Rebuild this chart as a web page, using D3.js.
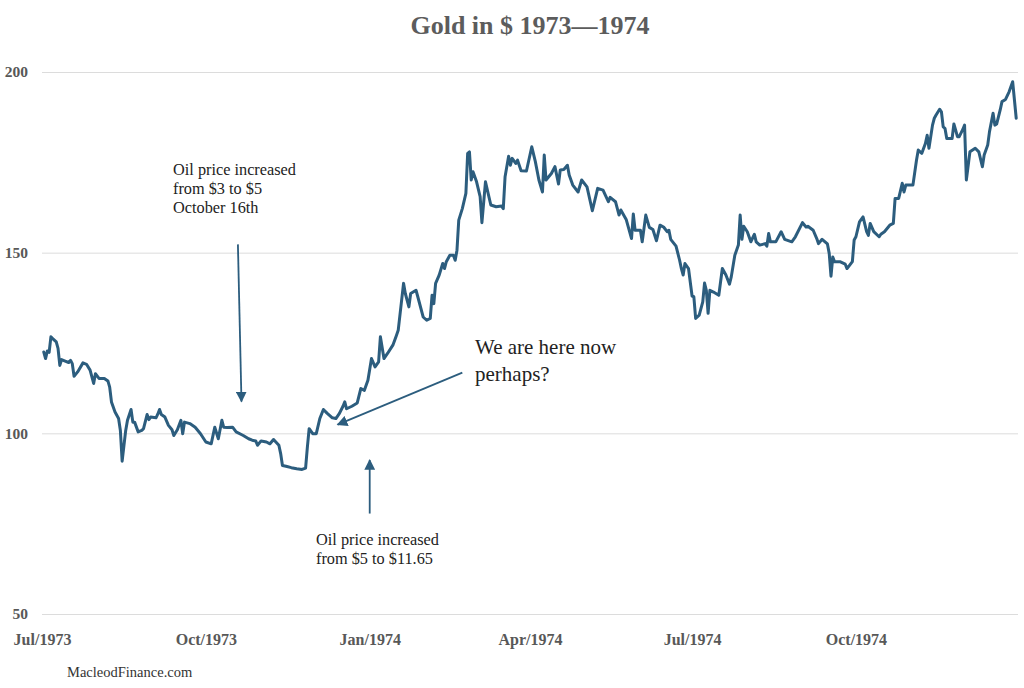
<!DOCTYPE html>
<html>
<head>
<meta charset="utf-8">
<script src="https://cdn.jsdelivr.net/npm/d3@7"></script>
<style>
  html, body { margin: 0; padding: 0; background: #fff; }
  svg { display: block; }
  text { font-family: "Liberation Serif", "DejaVu Serif", serif; }
</style>
</head>
<body>
<svg id="chart" width="1024" height="688"></svg>
<script>
// ---- data ----
const title = "Gold in $ 1973\u20141974";
const source = "MacleodFinance.com";
const yTicks = [50, 100, 150, 200];
const xTickDates = ["1973-07-01", "1973-10-01", "1974-01-01", "1974-04-01", "1974-07-01", "1974-10-01"];

const dates = [
"1973-07-02","1973-07-03","1973-07-04","1973-07-05","1973-07-06","1973-07-07","1973-07-09","1973-07-10","1973-07-11","1973-07-12",
"1973-07-14","1973-07-16","1973-07-17","1973-07-18","1973-07-19","1973-07-21","1973-07-24","1973-07-26","1973-07-28","1973-07-30",
"1973-07-31","1973-08-02","1973-08-05","1973-08-07","1973-08-08","1973-08-09","1973-08-11","1973-08-13","1973-08-14","1973-08-15",
"1973-08-17","1973-08-18","1973-08-20","1973-08-21","1973-08-22","1973-08-24","1973-08-26","1973-08-27","1973-08-29","1973-08-30",
"1973-08-31","1973-09-03","1973-09-04","1973-09-05","1973-09-06","1973-09-08","1973-09-10","1973-09-12","1973-09-13","1973-09-15",
"1973-09-17","1973-09-18","1973-09-19","1973-09-22","1973-09-25","1973-09-28","1973-10-01","1973-10-04","1973-10-06","1973-10-08",
"1973-10-10","1973-10-11","1973-10-13","1973-10-16","1973-10-18","1973-10-22","1973-10-25","1973-10-27","1973-10-29","1973-10-30",
"1973-11-01","1973-11-04","1973-11-06","1973-11-08","1973-11-11","1973-11-12","1973-11-13","1973-11-15","1973-11-18","1973-11-21",
"1973-11-24","1973-11-26","1973-11-27","1973-11-28","1973-11-30","1973-12-02","1973-12-04","1973-12-06","1973-12-08","1973-12-11",
"1973-12-13","1973-12-15","1973-12-17","1973-12-18","1973-12-19","1973-12-22","1973-12-25","1973-12-27","1973-12-29","1973-12-31",
"1974-01-02","1974-01-04","1974-01-06","1974-01-07","1974-01-09","1974-01-11","1974-01-14","1974-01-16","1974-01-17","1974-01-20",
"1974-01-21","1974-01-23","1974-01-24","1974-01-27","1974-01-28","1974-01-31","1974-02-02","1974-02-04","1974-02-05","1974-02-06",
"1974-02-07","1974-02-09","1974-02-11","1974-02-12","1974-02-13","1974-02-15","1974-02-17","1974-02-18","1974-02-19","1974-02-20",
"1974-02-22","1974-02-24","1974-02-25","1974-02-26","1974-02-27","1974-02-28","1974-03-02","1974-03-04","1974-03-05","1974-03-07",
"1974-03-10","1974-03-13","1974-03-16","1974-03-17","1974-03-18","1974-03-20","1974-03-21","1974-03-22","1974-03-24","1974-03-25",
"1974-03-27","1974-03-30","1974-04-02","1974-04-04","1974-04-06","1974-04-08","1974-04-09","1974-04-10","1974-04-13","1974-04-15",
"1974-04-17","1974-04-18","1974-04-20","1974-04-22","1974-04-23","1974-04-25","1974-04-28","1974-04-30","1974-05-03","1974-05-06",
"1974-05-09","1974-05-12","1974-05-15","1974-05-16","1974-05-19","1974-05-21","1974-05-22","1974-05-25","1974-05-28","1974-05-29",
"1974-05-30","1974-06-02","1974-06-03","1974-06-05","1974-06-07","1974-06-09","1974-06-11","1974-06-13","1974-06-15","1974-06-17",
"1974-06-18","1974-06-19","1974-06-22","1974-06-24","1974-06-25","1974-06-26","1974-06-27","1974-06-29","1974-07-01","1974-07-02",
"1974-07-03","1974-07-05","1974-07-07","1974-07-08","1974-07-09","1974-07-10","1974-07-11","1974-07-13","1974-07-16","1974-07-18",
"1974-07-20","1974-07-22","1974-07-23","1974-07-25","1974-07-27","1974-07-28","1974-07-29","1974-07-30","1974-08-01","1974-08-03",
"1974-08-05","1974-08-06","1974-08-08","1974-08-11","1974-08-12","1974-08-13","1974-08-14","1974-08-17","1974-08-20","1974-08-22",
"1974-08-26","1974-08-28","1974-09-01","1974-09-03","1974-09-04","1974-09-07","1974-09-09","1974-09-10","1974-09-12","1974-09-15",
"1974-09-16","1974-09-17","1974-09-18","1974-09-19","1974-09-22","1974-09-25","1974-09-26","1974-09-29","1974-09-30","1974-10-01",
"1974-10-03","1974-10-05","1974-10-07","1974-10-08","1974-10-09","1974-10-11","1974-10-14","1974-10-15","1974-10-17","1974-10-20",
"1974-10-22","1974-10-23","1974-10-25","1974-10-27","1974-10-28","1974-10-29","1974-11-02","1974-11-04","1974-11-05","1974-11-07",
"1974-11-09","1974-11-10","1974-11-11","1974-11-13","1974-11-14","1974-11-15","1974-11-17","1974-11-18","1974-11-19","1974-11-20",
"1974-11-21","1974-11-24","1974-11-25","1974-11-26","1974-11-27","1974-11-28","1974-11-30","1974-12-01","1974-12-02","1974-12-04",
"1974-12-07","1974-12-09","1974-12-11","1974-12-12","1974-12-14","1974-12-15","1974-12-17","1974-12-18","1974-12-19","1974-12-21",
"1974-12-22","1974-12-24","1974-12-26","1974-12-28","1974-12-30"
];
const prices = [
122.5,120.7,122.8,122.4,126.7,126.2,125.3,123.5,118.8,120.4,
120.0,119.6,120.2,119.3,115.8,117.0,119.5,119.1,117.5,113.8,
116.5,115.2,115.2,114.5,112.8,108.7,105.9,104.1,100.8,92.3,
100.8,103.6,106.6,103.1,103.1,100.4,100.8,101.3,105.2,103.8,
104.5,104.3,105.3,106.6,105.2,104.5,102.2,101.0,99.4,101.0,
103.6,99.9,103.1,102.7,101.7,99.9,97.6,97.1,101.7,98.5,
103.6,101.7,101.6,101.7,100.4,99.4,98.5,98.1,97.9,96.7,
97.9,97.6,97.1,98.3,96.7,94.4,91.1,90.9,90.5,90.2,
90.0,90.4,96.2,101.3,99.9,99.9,104.1,106.6,105.6,104.3,
104.1,105.5,107.5,108.7,106.8,107.5,108.4,112.4,111.9,114.7,
120.7,118.4,119.8,126.7,120.7,122.1,124.4,127.1,128.5,141.5,
138.7,135.0,138.7,139.6,137.8,132.2,131.3,131.8,138.2,135.9,
141.5,143.8,147.0,145.6,147.5,149.3,149.3,147.9,150.7,159.0,
162.2,166.4,177.5,177.9,170.1,172.4,169.6,165.5,158.3,169.6,
163.2,162.7,162.9,162.2,171.0,176.7,174.2,176.1,174.7,175.6,
172.7,172.6,179.3,175.2,170.1,166.8,177.0,170.1,171.9,173.8,
169.0,172.9,173.0,174.2,171.5,168.7,166.8,170.1,168.2,161.6,
167.8,167.3,164.1,165.3,164.1,160.4,161.8,159.2,153.9,160.7,
156.2,156.2,153.0,160.4,157.0,156.4,153.3,157.6,157.1,155.8,
156.2,153.7,151.8,147.9,145.6,143.8,147.0,145.6,138.0,137.8,
131.8,132.7,136.4,141.6,139.6,133.2,139.6,139.1,138.2,145.6,
143.8,141.3,143.3,149.3,152.1,160.4,153.7,157.3,155.8,153.0,
155.1,153.0,152.1,152.5,151.8,155.3,153.0,153.0,155.8,153.7,
153.0,154.4,158.3,157.1,157.3,156.2,153.9,152.5,153.7,152.4,
149.8,143.5,148.8,147.5,147.5,146.8,145.6,147.5,153.5,154.4,
158.5,159.9,155.8,154.8,158.1,155.8,154.4,155.1,155.8,157.6,
158.1,165.0,165.0,169.2,166.8,168.7,168.7,175.6,178.4,177.5,
180.2,182.5,178.9,185.3,187.2,188.1,189.7,189.0,184.8,184.4,
181.6,181.6,185.6,183.9,182.1,182.1,184.1,185.3,170.1,177.9,
178.9,177.9,173.8,177.0,179.8,183.5,188.6,185.3,185.6,189.5,
191.8,192.4,194.5,197.3,187.2
];

// annotation texts
const noteOct = ["Oil price increased", "from $3 to $5", "October 16th"];
const noteJan = ["Oil price increased", "from $5 to $11.65"];
const noteNow = ["We are here now", "perhaps?"];

// ---- drawing ----
const parse = d3.timeParse("%Y-%m-%d");
const series = dates.map((d, i) => ({ date: parse(d), value: prices[i] }));

const svg = d3.select("#chart");
const lineColor = "#2c5d7e";
const textGray = "#585858";

const x = d3.scaleTime()
  .domain([parse("1973-07-01"), parse("1974-12-31")])
  .range([42, 1018]);
const y = d3.scaleLinear().domain([50, 200]).range([614, 72]);

// title
svg.append("text")
  .attr("x", 530).attr("y", 34)
  .attr("text-anchor", "middle")
  .attr("font-size", 26).attr("font-weight", "bold")
  .attr("fill", "#5c5c5c")
  .text(title);

// y grid + labels
const yAxis = svg.append("g")
  .attr("transform", "translate(42,0)")
  .call(d3.axisLeft(y).tickValues(yTicks).tickSize(-976).tickPadding(14).tickFormat(d3.format("d")));
yAxis.select(".domain").remove();
yAxis.selectAll(".tick line").attr("stroke", "#dcdcdc").attr("stroke-width", 1);
yAxis.selectAll(".tick text")
  .attr("font-family", "Liberation Serif, serif")
  .attr("font-size", 15.5).attr("font-weight", "bold").attr("fill", textGray);

// x axis labels
const xAxis = svg.append("g")
  .attr("transform", "translate(0,614)")
  .call(d3.axisBottom(x).tickValues(xTickDates.map(parse)).tickSize(0).tickPadding(20).tickFormat(d3.timeFormat("%b/%Y")));
xAxis.select(".domain").remove();
xAxis.selectAll(".tick text")
  .attr("font-family", "Liberation Serif, serif")
  .attr("font-size", 16).attr("font-weight", "bold").attr("fill", textGray);

// price line
svg.append("path")
  .datum(series)
  .attr("fill", "none")
  .attr("stroke", lineColor)
  .attr("stroke-width", 3)
  .attr("stroke-linejoin", "round")
  .attr("stroke-linecap", "round")
  .attr("d", d3.line().x(d => x(d.date)).y(d => y(d.value)));

// arrow marker
svg.append("defs").append("marker")
  .attr("id", "arrow")
  .attr("viewBox", "0 0 10 10")
  .attr("refX", 9).attr("refY", 5)
  .attr("markerWidth", 6).attr("markerHeight", 6)
  .attr("markerUnits", "strokeWidth")
  .attr("orient", "auto")
  .append("path").attr("d", "M0,0 L10,5 L0,10 z").attr("fill", lineColor);

function arrow(d1, v1, d2, v2) {
  svg.append("line")
    .attr("x1", x(parse(d1))).attr("y1", y(v1))
    .attr("x2", x(parse(d2))).attr("y2", y(v2))
    .attr("stroke", lineColor).attr("stroke-width", 1.8)
    .attr("marker-end", "url(#arrow)");
}
arrow("1973-10-19", 152.3, "1973-10-21", 108.8);
arrow("1974-01-01", 77.8, "1974-01-01", 92.6);
arrow("1974-02-22", 116.8, "1973-12-14", 102.4);

function note(lines, px, py, size, lh) {
  const t = svg.append("text")
    .attr("x", px).attr("y", py)
    .attr("font-size", size).attr("fill", "#222");
  lines.forEach((l, i) => t.append("tspan").attr("x", px).attr("y", py + i * lh).text(l));
}
note(noteOct, 173, 175, 16.3, 19);
note(noteJan, 316, 545, 16.3, 18.5);
note(noteNow, 475, 354, 21, 27);

// source
svg.append("text")
  .attr("x", 67).attr("y", 677)
  .attr("font-size", 14.5).attr("fill", "#333")
  .text(source);
</script>
</body>
</html>
